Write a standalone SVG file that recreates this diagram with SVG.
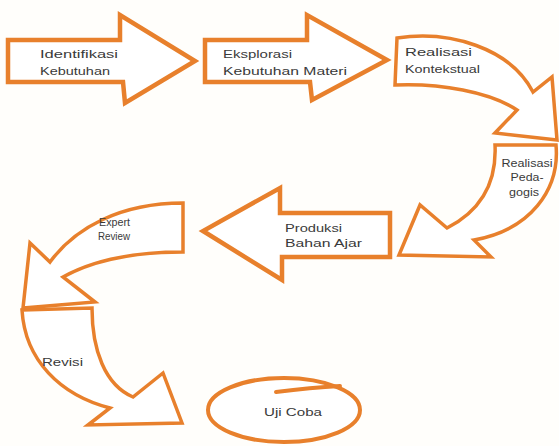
<svg xmlns="http://www.w3.org/2000/svg" width="559" height="446" viewBox="0 0 559 446">
<style>
.shape{fill:#ffffff;stroke:#E8802C;stroke-width:4.5;stroke-linejoin:miter;stroke-miterlimit:10}
.curve{fill:#ffffff;stroke:#E8802C;stroke-width:3.5;stroke-linejoin:miter;stroke-miterlimit:10}
.lbl{font-family:"Liberation Sans",Arial,sans-serif;font-size:11.5px;fill:#3a3a3a}
.mid{text-anchor:middle}
</style>
<rect width="559" height="446" fill="#fffefb"/>
<g id="node-identifikasi">
<polygon class="shape" points="8,40 120,40 120,15 195,61 125,103 123,82 8,82"/>
<text class="lbl" x="40" y="58" textLength="78" lengthAdjust="spacingAndGlyphs">Identifikasi</text>
<text class="lbl" x="40" y="75" textLength="70" lengthAdjust="spacingAndGlyphs">Kebutuhan</text>
</g>
<g id="node-eksplorasi">
<polygon class="shape" points="205,40 307,40 307,15 387,60 312,100 310,82 205,82"/>
<text class="lbl" x="223" y="58" textLength="69" lengthAdjust="spacingAndGlyphs">Eksplorasi</text>
<text class="lbl" x="223" y="75" textLength="124" lengthAdjust="spacingAndGlyphs">Kebutuhan Materi</text>
</g>
<g id="node-kontekstual">
<path class="curve" d="M397,38 C450,30 510,48 533,92 L552,77 L557,140 L495,133 L517,110 C490,92 440,83 395,85 Z"/>
<text class="lbl" x="405" y="56" textLength="67" lengthAdjust="spacingAndGlyphs">Realisasi</text>
<text class="lbl" x="405" y="73" textLength="75" lengthAdjust="spacingAndGlyphs">Kontekstual</text>
</g>
<g id="node-pedagogis">
<path class="curve" d="M495,145 L556,145 C560,190 530,230 474,240 L491,257 L399,255 L420,205 L447,228 C478,212 497,185 495,145 Z"/>
<text class="lbl mid" x="527" y="167" textLength="51" lengthAdjust="spacingAndGlyphs">Realisasi</text>
<text class="lbl mid" x="527" y="181" textLength="33" lengthAdjust="spacingAndGlyphs">Peda-</text>
<text class="lbl mid" x="524" y="196" textLength="30" lengthAdjust="spacingAndGlyphs">gogis</text>
</g>
<g id="node-produksi">
<polygon class="shape" points="390,213 280,213 280,188 203,231 282,280 282,257 390,257"/>
<text class="lbl" x="285" y="232" textLength="57" lengthAdjust="spacingAndGlyphs">Produksi</text>
<text class="lbl" x="285" y="247" textLength="77" lengthAdjust="spacingAndGlyphs">Bahan Ajar</text>
</g>
<g id="node-expert">
<path class="curve" d="M183,203 L183,252 C130,252 90,262 63,277 L95,302 L23,308 L30,243 L50,262 C75,228 120,203 183,203 Z"/>
<text class="lbl" x="99" y="226" textLength="31" lengthAdjust="spacingAndGlyphs">Expert</text>
<text class="lbl" x="98" y="240" textLength="32" lengthAdjust="spacingAndGlyphs">Review</text>
</g>
<g id="node-revisi">
<path class="curve" d="M22,310 L92,308 C92,350 105,385 133,397 L163,373 L182,423 L88,425 L110,408 C60,395 25,360 22,310 Z"/>
<text class="lbl" x="42" y="366" textLength="41" lengthAdjust="spacingAndGlyphs">Revisi</text>
</g>
<g id="node-ujicoba">
<ellipse cx="284" cy="410" rx="76" ry="32" fill="#ffffff" stroke="#E8802C" stroke-width="4"/>
<path d="M276,392 C300,389 322,387 340,386" fill="none" stroke="#E8802C" stroke-width="4" stroke-linecap="round"/>
<text class="lbl" x="264" y="416" textLength="58" lengthAdjust="spacingAndGlyphs">Uji Coba</text>
</g>
<g id="connectors"></g>
</svg>
